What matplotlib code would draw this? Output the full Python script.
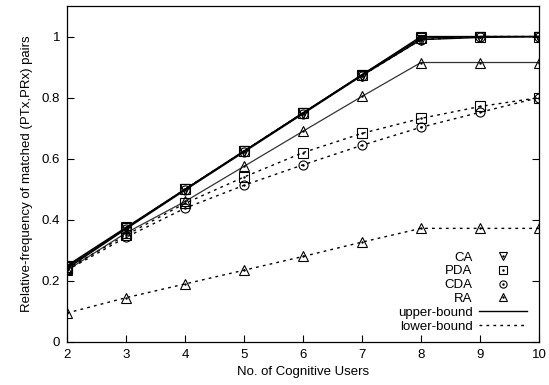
import numpy as np
import matplotlib; matplotlib.use("Agg"); import matplotlib.pyplot as plt
from matplotlib.lines import Line2D
from matplotlib.legend_handler import HandlerTuple

plt.rcParams['font.family'] = ['Liberation Sans', 'DejaVu Sans']

users = [2, 3, 4, 5, 6, 7, 8, 9, 10]
# upper-bound (solid)
ca_up = [0.25, 0.375, 0.5, 0.625, 0.75, 0.875, 1.0, 1.0, 1.0]
pda_up = [0.245, 0.372, 0.5, 0.625, 0.75, 0.875, 0.995, 1.0, 1.0]
cda_up = [0.24, 0.37, 0.497, 0.622, 0.747, 0.872, 0.99, 0.997, 1.0]
ra_up = [0.235, 0.357, 0.46, 0.575, 0.69, 0.804, 0.915, 0.915, 0.915]
# lower-bound (dotted)
ca_lo = [0.248, 0.372, 0.5, 0.625, 0.75, 0.872, 0.99, 1.0, 1.0]
pda_lo = [0.24, 0.35, 0.454, 0.54, 0.62, 0.683, 0.732, 0.771, 0.80]
cda_lo = [0.235, 0.343, 0.438, 0.513, 0.58, 0.644, 0.703, 0.752, 0.80]
ra_lo = [0.095, 0.145, 0.19, 0.235, 0.28, 0.327, 0.372, 0.372, 0.372]

DOT = (0, (2, 3))
mk = dict(v=dict(marker='v', ms=6.5), s=dict(marker='s', ms=6.5), o=dict(marker='o', ms=6.5), t=dict(marker='^', ms=7))

fig = plt.figure(figsize=(5.49, 3.85), dpi=100)
ax = fig.add_axes([67/549, 1-342/385, 472/549, 336/385])

def series(y, m, ls, col='black', lw=1.0):
    ax.plot(users, y, color=col, lw=lw, ls=ls, mfc='none', mec='black', mew=0.8, **mk[m])
    ax.plot(users, y, ls='none', marker='.', ms=1.5, color='black')

series(ca_up, 'v', '-')
series(pda_up, 's', '-')
series(cda_up, 'o', '-')
series(ra_up, 't', '-', col='#333333', lw=0.9)
series(ca_lo, 'v', DOT)
series(pda_lo, 's', DOT)
series(cda_lo, 'o', DOT)
series(ra_lo, 't', DOT)

def mh(m):
    d = dict(mk[m]); d['ms'] = d['ms'] * 0.8
    return (Line2D([], [], ls='none', mfc='none', mec='black', mew=0.8, **d),
            Line2D([], [], ls='none', marker='.', ms=1.5, color='black'))
handles = [mh('v'), mh('s'), mh('o'), mh('t'),
           Line2D([], [], color='black', lw=1.0),
           Line2D([], [], color='black', lw=1.0, ls=DOT)]
labels = ['CA', 'PDA', 'CDA', 'RA', 'upper-bound', 'lower-bound']
ax.legend(handles, labels, loc='lower right', markerfirst=False, frameon=False, fontsize=9.5,
          handlelength=3.6, handletextpad=0.5, labelspacing=0.12, borderaxespad=0.0,
          bbox_to_anchor=(0.985, 0.012), handler_map={tuple: HandlerTuple(ndivide=1, pad=0)})

ax.set_xlim(2, 10)
ax.set_ylim(0, 1.1)
ax.set_xticks(users)
ax.set_yticks([0, 0.2, 0.4, 0.6, 0.8, 1.0])
ax.set_yticklabels(['0', '0.2', '0.4', '0.6', '0.8', '1'])
ax.tick_params(direction='in', length=5, width=0.8, labelsize=9.5, pad=5)
ax.tick_params(axis='y', right=True)
for s in ax.spines.values(): s.set_linewidth(0.9)
ax.set_xlabel('No. of Cognitive Users', fontsize=9.5, labelpad=4)
ax.set_ylabel('Relative-frequency of matched (PTx,PRx) pairs', fontsize=9.5, labelpad=6)

fig.savefig('out.png', dpi=100)
